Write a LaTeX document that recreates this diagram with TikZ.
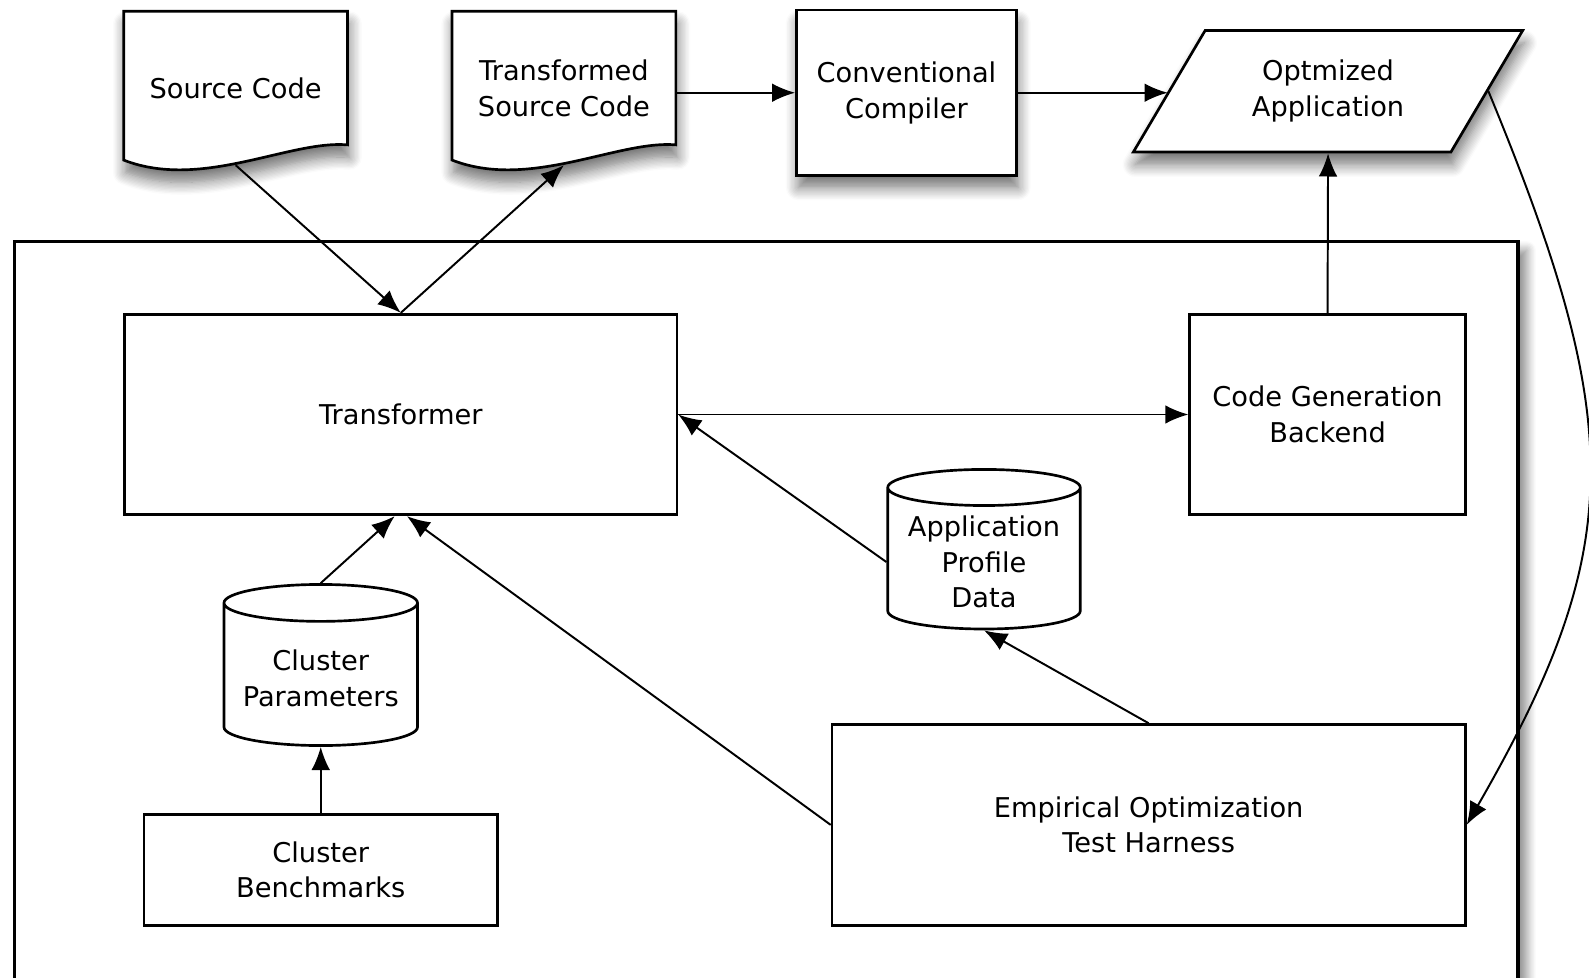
\documentclass[tikz,border=0pt]{standalone}
\usepackage{fontspec}
\setmainfont{DejaVu Sans}
\usepackage{tikz}
\usetikzlibrary{positioning}
\usetikzlibrary{arrows.meta,shapes.geometric,shadows.blur,backgrounds}

\begin{document}
\begin{tikzpicture}[->,>={Latex[length=13pt,width=10.5pt]},x=0.02cm,y=-0.02cm,
        line width=1.1pt,font=\fontsize{15.3}{20}\selectfont,
        shade/.style={blur shadow={shadow xshift=1pt,shadow yshift=-7pt,
            shadow blur radius=7pt,shadow blur steps=10,shadow opacity=55}},
        box/.style={draw,line width=1.5pt,align=center,rectangle},
        doc/.style={align=center,minimum width=4.38cm,minimum height=3cm},
        db/.style={draw,line width=1.5pt,align=center,cylinder,
            shape border rotate=90,aspect=0.22,anchor=south}]

  \useasboundingbox (0,0) rectangle (1568,965);

  \node[doc] (src) at (232.5,87) {Source Code};
  \node[doc] (tsrc) at (556.5,87) {Transformed\\Source Code};
  \node[box,fill=white,shade,minimum width=4.34cm,minimum height=3.26cm] (comp) at (894.5,91.5) {Conventional\\Compiler};
  \node[draw,line width=1.5pt,align=center,fill=white,shade,trapezium,trapezium left angle=57,
        trapezium right angle=123,trapezium stretches=true,
        minimum width=7.7cm,minimum height=2.4cm] (opt) at (1310.5,90) {Optmized\\Application};

  \node[box,minimum width=10.9cm,minimum height=3.96cm] (trans) at (395.5,409) {Transformer};
  \node[box,minimum width=5.44cm,minimum height=3.96cm] (cgb) at (1310,409) {Code Generation\\Backend};
  \node[db,minimum width=3.8cm,minimum height=3.15cm] (apd) at (971,622) {Application\\Profile\\Data};
  \node[db,minimum width=3.82cm,minimum height=3.18cm] (cp) at (316.5,737) {Cluster\\Parameters};
  \node[box,minimum width=6.98cm,minimum height=2.18cm] (cb) at (316.5,858.5) {Cluster\\Benchmarks};
  \node[box,minimum width=12.5cm,minimum height=3.96cm] (eo) at (1133.5,814) {Empirical Optimization\\Test Harness};

  \begin{scope}[on background layer]
    % frame round the tool chain
    \draw[line width=1.8pt,fill=white,blur shadow={shadow xshift=5pt,shadow yshift=-5pt,
            shadow blur radius=5pt,shadow blur steps=8,shadow opacity=45}] (14,238) rectangle (1498,1000);
    % document outlines
    \foreach \d in {src,tsrc}
      \draw[line width=1.5pt,fill=white,shade] (\d.north west) -- (\d.north east) -- ([yshift=0.4cm]\d.south east)
        .. controls ([xshift=-1.14cm,yshift=0.5cm]\d.south east) and ([xshift=1.54cm,yshift=-0.5cm]\d.south west)
        .. ([yshift=0.1cm]\d.south west) -- cycle;
  \end{scope}

  \path (src.south) edge (trans.north)
        (trans.north) edge (tsrc.south)
        (tsrc.east |- comp.west) edge (comp.west)
        (comp.east) edge (comp.east -| opt.west)
        (trans.east) edge (cgb.west)
        (cgb.north) edge (opt.south)
        (apd.west) edge (trans.east)
        (cp.north) edge ([xshift=-0.12cm]trans.south)
        (cb.north) edge (cp.south)
        (eo.west) edge ([xshift=0.12cm]trans.south)
        (eo.north) edge (apd.south);

  \draw (opt.east) .. controls (1605,420) and (1605,540) .. (eo.east);

\end{tikzpicture}
\end{document}
